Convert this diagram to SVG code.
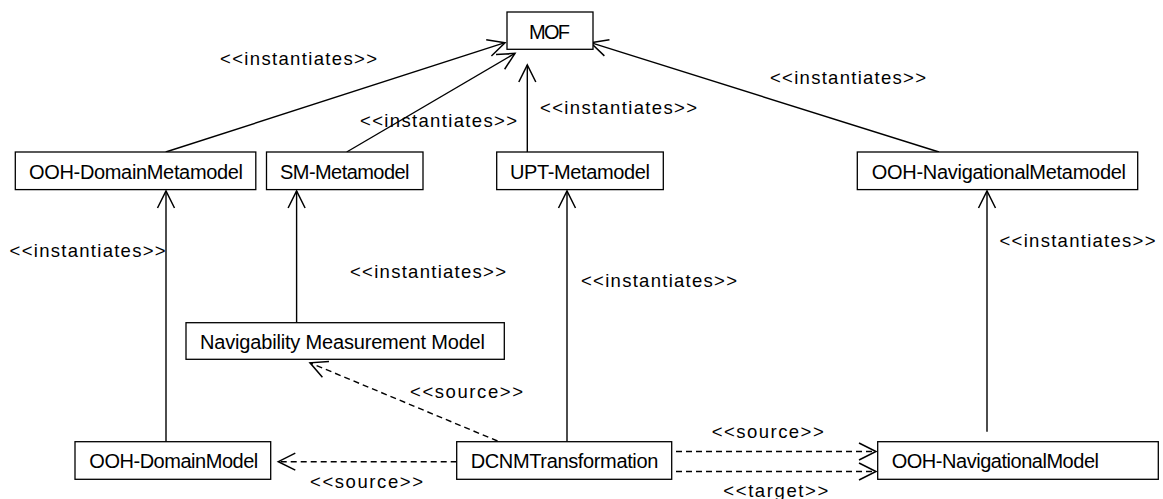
<svg xmlns="http://www.w3.org/2000/svg" width="1163" height="499" viewBox="0 0 1163 499">
  <style>
    .box { fill: #ffffff; stroke: #000000; stroke-width: 1.3; }
    .name { font-family: "Liberation Sans", Arial, sans-serif; font-size: 20px; fill: #000000; }
    .lbl { font-family: "Liberation Sans", Arial, sans-serif; font-size: 18.5px; fill: #000000; }
    .edge { fill: none; stroke: #000000; stroke-width: 1.4; }
    .dash { fill: none; stroke: #000000; stroke-width: 1.4; stroke-dasharray: 6 4; }
  </style>
  <defs>
    <marker id="open" markerUnits="userSpaceOnUse" markerWidth="24" markerHeight="24" viewBox="-20 -12 24 24" refX="0" refY="0" orient="auto">
      <path d="M-17,-8.5 L0,0 L-17,8.5" fill="none" stroke="#000000" stroke-width="1.5"/>
    </marker>
  </defs>
  <rect width="1163" height="499" fill="#ffffff"/>

  <!-- connectors -->
  <g id="connectors">
    <!-- metamodels instantiate MOF -->
    <line class="edge" x1="165.7" y1="152" x2="505" y2="42.7" marker-end="url(#open)"/>
    <line class="edge" x1="346.7" y1="152" x2="515" y2="53.3" marker-end="url(#open)"/>
    <line class="edge" x1="527.3" y1="152" x2="527.3" y2="65" marker-end="url(#open)"/>
    <line class="edge" x1="939" y1="152" x2="590.7" y2="42.7" marker-end="url(#open)"/>
    <!-- models instantiate metamodels -->
    <line class="edge" x1="166" y1="451.7" x2="166" y2="191" marker-end="url(#open)"/>
    <line class="edge" x1="296.6" y1="322.7" x2="296.6" y2="191" marker-end="url(#open)"/>
    <line class="edge" x1="567" y1="441.7" x2="567" y2="191" marker-end="url(#open)"/>
    <line class="edge" x1="987" y1="431.7" x2="987" y2="191" marker-end="url(#open)"/>
    <!-- transformation dependencies -->
    <line class="dash" x1="497.5" y1="441" x2="310" y2="362.8" marker-end="url(#open)"/>
    <line class="dash" x1="456.7" y1="461.7" x2="278.3" y2="461.7" marker-end="url(#open)"/>
    <line class="dash" x1="676" y1="451.5" x2="876" y2="451.5" marker-end="url(#open)"/>
    <line class="dash" x1="676" y1="471.5" x2="876" y2="471.5" marker-end="url(#open)"/>

    <!-- stereotype labels -->
    <text class="lbl" x="220" y="65" textLength="157">&lt;&lt;instantiates&gt;&gt;</text>
    <text class="lbl" x="360" y="127" textLength="157">&lt;&lt;instantiates&gt;&gt;</text>
    <text class="lbl" x="540" y="113.5" textLength="157">&lt;&lt;instantiates&gt;&gt;</text>
    <text class="lbl" x="770" y="84" textLength="156">&lt;&lt;instantiates&gt;&gt;</text>
    <text class="lbl" x="9.6" y="257" textLength="156">&lt;&lt;instantiates&gt;&gt;</text>
    <text class="lbl" x="350" y="277.7" textLength="156">&lt;&lt;instantiates&gt;&gt;</text>
    <text class="lbl" x="581" y="287" textLength="156">&lt;&lt;instantiates&gt;&gt;</text>
    <text class="lbl" x="999.5" y="247.3" textLength="156">&lt;&lt;instantiates&gt;&gt;</text>
    <text class="lbl" x="410" y="397.5" textLength="113">&lt;&lt;source&gt;&gt;</text>
    <text class="lbl" x="310" y="487.5" textLength="113">&lt;&lt;source&gt;&gt;</text>
    <text class="lbl" x="711.7" y="437.5" textLength="112">&lt;&lt;source&gt;&gt;</text>
    <text class="lbl" x="723.3" y="496.5" textLength="105">&lt;&lt;target&gt;&gt;</text>
  </g>

  <g id="mof">
    <rect class="box" x="507" y="12" width="86" height="37.3"/>
    <text class="name" x="529" y="38.5" textLength="41">MOF</text>
  </g>
  <g id="ooh-domain-metamodel">
    <rect class="box" x="15.3" y="152" width="240.5" height="37.6"/>
    <text class="name" x="29" y="178.5" textLength="214">OOH-DomainMetamodel</text>
  </g>
  <g id="sm-metamodel">
    <rect class="box" x="266.5" y="152" width="156.5" height="37.6"/>
    <text class="name" x="280" y="178.5" textLength="129.5">SM-Metamodel</text>
  </g>
  <g id="upt-metamodel">
    <rect class="box" x="496.7" y="152" width="166.6" height="37.6"/>
    <text class="name" x="510" y="178.5" textLength="140">UPT-Metamodel</text>
  </g>
  <g id="ooh-navigational-metamodel">
    <rect class="box" x="857.3" y="152" width="280.4" height="37.6"/>
    <text class="name" x="871.7" y="178.5" textLength="254.3">OOH-NavigationalMetamodel</text>
  </g>
  <g id="navigability-measurement-model">
    <rect class="box" x="186" y="322.7" width="318.3" height="36.6"/>
    <text class="name" x="200" y="348.5" textLength="285">Navigability Measurement Model</text>
  </g>
  <g id="ooh-domain-model">
    <rect class="box" x="75" y="441.7" width="195.7" height="37.6"/>
    <text class="name" x="89.3" y="468.3" textLength="169">OOH-DomainModel</text>
  </g>
  <g id="dcnm-transformation">
    <rect class="box" x="456.7" y="441.7" width="215" height="37.6"/>
    <text class="name" x="470.7" y="468.3" textLength="187.6">DCNMTransformation</text>
  </g>
  <g id="ooh-navigational-model">
    <rect class="box" x="877.7" y="441.7" width="280.6" height="37.6"/>
    <text class="name" x="891.7" y="468.3" textLength="207.3">OOH-NavigationalModel</text>
  </g>
</svg>
